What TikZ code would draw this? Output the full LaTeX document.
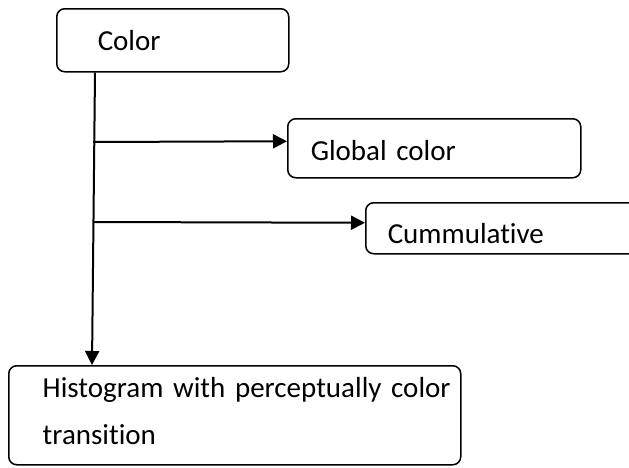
\documentclass[tikz,border=0pt]{standalone}
\usepackage{fontspec}
\setmainfont{Carlito}[Ligatures=NoCommon]
\usetikzlibrary{arrows.meta}
\tikzset{
  box/.style={draw=black, line width=1.5pt, rounded corners=8pt, rectangle,
    inner xsep=0pt, inner ysep=0pt, anchor=north west, align=left,
    font=\fontsize{29}{47}\selectfont},
  conn/.style={draw=black, line width=2pt},
  arr/.style={conn, -{Triangle[length=14pt,width=14pt]}}
}
\begin{document}
\begin{tikzpicture}[x=1pt,y=-1pt]
\useasboundingbox (0,0) rectangle (629,467);
\clip (0,0) rectangle (629,467);
\node[box, text width=232pt, text height=42pt, text depth=21pt] (color) at (56,8)
  {\hspace*{41pt}Color};
\node[box, text width=293pt, text height=42pt, text depth=17pt] (global) at (287,118)
  {\hspace*{23pt}\mbox{Global color}};
\node[box, text width=290pt, text height=41pt, text depth=10pt] (cumm) at (365,202)
  {\hspace*{22pt}Cummulative};
\node[box, text width=452pt, text height=32pt, text depth=67pt] (hist) at (8,365)
  {\hspace*{34pt}\mbox{Histogram with perceptually color}\\\hspace*{34pt}\mbox{transition}};
\coordinate (b1) at (93,142);
\coordinate (b2) at (93,222);
\draw[arr] ([xshift=39pt]color.south west) -- ([xshift=84pt]hist.north west);
\draw[arr] (b1) -- ([yshift=7pt]global.west);
\draw[arr] (b2) -- ([yshift=5.5pt]cumm.west);
\end{tikzpicture}
\end{document}
